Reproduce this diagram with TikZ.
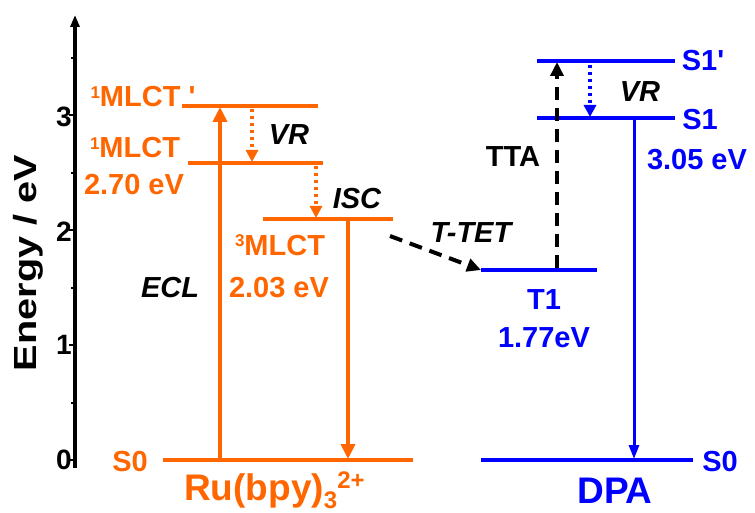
\documentclass[tikz,border=0pt]{standalone}
\usepackage{fontspec}
\setmainfont{Liberation Sans}
\usetikzlibrary{arrows.meta}
\definecolor{ruorange}{RGB}{255,102,0}
\definecolor{dpablue}{RGB}{0,0,255}
\newcommand\upnum[1]{\raisebox{8.5pt}{\fontsize{17}{17}\selectfont #1}}
\begin{document}
\begin{tikzpicture}[x=1pt,y=-1pt,
  lvlO/.style={draw=ruorange,line width=4pt},
  lvlB/.style={draw=dpablue,line width=4pt},
  lbl/.style={inner sep=0pt,font=\bfseries\fontsize{29}{29}\selectfont},
  lblO/.style={lbl,text=ruorange},
  lblB/.style={lbl,text=dpablue},
  lblK/.style={lbl,text=black,font=\bfseries\itshape\fontsize{29}{29}\selectfont},
  big/.style={inner sep=0pt,font=\bfseries\fontsize{37}{37}\selectfont},
  tickl/.style={inner sep=0pt,font=\bfseries\fontsize{28}{28}\selectfont},
  solidO/.style={draw=ruorange,line width=4pt,-{Triangle[width=14pt,length=15pt]}},
  dotO/.style={draw=ruorange,line width=3.5pt,dash pattern=on 3.5pt off 3.5pt,-{Triangle[width=12pt,length=12pt]}},
  dotB/.style={draw=dpablue,line width=3.5pt,dash pattern=on 3.5pt off 3.5pt,-{Triangle[width=12pt,length=12pt]}},
  solidB/.style={draw=dpablue,line width=3pt,-{Triangle[width=10pt,length=14pt]}},
  dashK/.style={draw=black,line width=4pt,dash pattern=on 13pt off 8pt,-{Triangle[width=13pt,length=14pt]}}
]
\useasboundingbox (0,0) rectangle (755,513);
% axis
\coordinate (axb) at (75,468);
\coordinate (axt) at (75,15);
\draw[line width=3.5pt,-{Triangle[width=9pt,length=12pt]}] (axb) -- (axt);
\foreach \y in {460,345,230,115} \draw[line width=1.5pt] (75,\y) -- (69,\y);
\foreach \y in {403,288,173,58} \draw[line width=1.2pt] (75,\y) -- (71,\y);
\node[tickl,anchor=east] (t0) at (72,460) {0};
\node[tickl,anchor=east] (t1) at (72,345) {1};
\node[tickl,anchor=east] (t2) at (72,232) {2};
\node[tickl,anchor=east] (t3) at (72,117) {3};
\node[inner sep=0pt,rotate=90,font=\bfseries\fontsize{32}{32}\selectfont] (ylab) at (28,263) {\scalebox{1.24}[1]{Energy / eV}};
% Ru(bpy)3 levels
\coordinate (mpA) at (182,106); \coordinate (mpB) at (318,106);
\coordinate (msA) at (188,163); \coordinate (msB) at (323,163);
\coordinate (mtA) at (263,219); \coordinate (mtB) at (393,219);
\coordinate (s0oA) at (163,460); \coordinate (s0oB) at (413,460);
\draw[lvlO] (mpA) -- (mpB);
\draw[lvlO] (msA) -- (msB);
\draw[lvlO] (mtA) -- (mtB);
\draw[lvlO] (s0oA) -- (s0oB);
% Ru arrows
\coordinate (eclB) at (220,460); \coordinate (eclT) at (220,107);
\draw[solidO] (eclB) -- (eclT);
\coordinate (phT) at (348,219); \coordinate (phB) at (348,459);
\draw[solidO] (phT) -- (phB);
\coordinate (vrT) at (252,109); \coordinate (vrB) at (252,162);
\draw[dotO] (vrT) -- (vrB);
\coordinate (iscT) at (316,166); \coordinate (iscB) at (316,218);
\draw[dotO] (iscT) -- (iscB);
% Ru labels
\node[lblO] (l1p) at (143,97) {\upnum{1}MLCT \textquotesingle};
\node[lblO] (l1) at (135,148) {\upnum{1}MLCT};
\node[lblO] (l1e) at (134,185) {2.70 eV};
\node[lblK] (vr1) at (289,135) {VR};
\node[lblK] (isc) at (357,199) {ISC};
\node[lblO] (l3) at (280,245) {\upnum{3}MLCT};
\node[lblO] (l3e) at (279,288) {2.03 eV};
\node[lblK] (ecl) at (170,288) {ECL};
\node[lblO] (s0o) at (130,462) {S0};
\node[big,text=ruorange,anchor=base west] (ru) at (184,500) {Ru(bpy)\raisebox{-8pt}{\fontsize{24}{24}\selectfont 3}\raisebox{12pt}{\fontsize{24}{24}\selectfont 2+}};
% DPA levels
\coordinate (spA) at (537,61); \coordinate (spB) at (675,61);
\coordinate (s1A) at (537,118); \coordinate (s1B) at (675,118);
\coordinate (t1A) at (481,270); \coordinate (t1B) at (597,270);
\coordinate (s0bA) at (481,460); \coordinate (s0bB) at (693,460);
\draw[lvlB] (spA) -- (spB);
\draw[lvlB] (s1A) -- (s1B);
\draw[lvlB] (t1A) -- (t1B);
\draw[lvlB] (s0bA) -- (s0bB);
% DPA arrows
\coordinate (flT) at (634,118); \coordinate (flB) at (634,459);
\draw[solidB] (flT) -- (flB);
\coordinate (vr2T) at (590,65); \coordinate (vr2B) at (590,117);
\draw[dotB] (vr2T) -- (vr2B);
\coordinate (ttaB) at (557,268); \coordinate (ttaT) at (557,62);
\draw[dashK] (ttaB) -- (ttaT);
\coordinate (tetS) at (390,236);
\draw[dashK] (tetS) -- (t1A);
% DPA labels
\node[lblB] (s1pl) at (703,61) {S1\textquotesingle};
\node[lblB] (s1l) at (700,120) {S1};
\node[lblB] (s1e) at (697,160) {3.05 eV};
\node[lbl] (tta) at (513,157) {TTA};
\node[lblK] (vr2) at (640,92) {VR};
\node[lblK] (tet) at (471,233) {T-TET};
\node[lblB] (t1l) at (544,300) {T1};
\node[lblB] (t1e) at (544,338) {1.77eV};
\node[lblB] (s0b) at (720,462) {S0};
\node[big,text=dpablue,anchor=base] (dpa) at (615,503) {DPA};
\end{tikzpicture}
\end{document}
